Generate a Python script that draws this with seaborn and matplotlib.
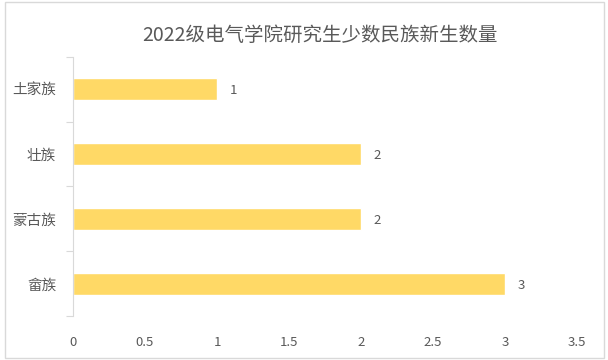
import matplotlib
matplotlib.use("Agg")
import matplotlib.pyplot as plt
import matplotlib.patches as mpatches
import numpy as np
import pandas as pd
import seaborn as sns

# Dados
minorias = ["土家族", "壮族", "蒙古族", "畲族"]
quantidade = [1, 2, 2, 3]
ticks_x = [0, 0.5, 1, 1.5, 2, 2.5, 3, 3.5]
titulo = "2022级电气学院研究生少数民族新生数量"

df = pd.DataFrame({"Etnia": minorias, "Qtd": quantidade})

sns.set_theme(style="white")
plt.rcParams["font.family"] = ["Noto Sans CJK SC", "DejaVu Sans"]

cinza = "#595959"
linha = "#D9D9D9"

fig = plt.figure(figsize=(6.08, 3.6), dpi=100)
ax = fig.add_axes([0.120, 0.121, 0.829, 0.722])

sns.barplot(data=df, x="Qtd", y="Etnia", orient="h", color="#FFD966",
            width=0.34, saturation=1, ax=ax)

ax.set_xlim(0, 3.5)
ax.set_ylim(len(minorias) - 0.5, -0.5)
ax.set_xticks(ticks_x)
ax.set_xticklabels([f"{t:g}" for t in ticks_x], color=cinza, fontsize=9.5)
ax.set_yticklabels(minorias, color=cinza, fontsize=10.5)
ax.set_xlabel("")
ax.set_ylabel("")

# Espinhas: so a esquerda
for lado in ["top", "right", "bottom"]:
    ax.spines[lado].set_visible(False)
ax.spines["left"].set_color(linha)
ax.spines["left"].set_linewidth(0.8)

# Marcas do eixo y entre categorias
ax.set_yticks(np.arange(-0.5, len(minorias), 1.0), minor=True)
ax.tick_params(axis="y", which="major", length=0, pad=12)
ax.tick_params(axis="y", which="minor", length=5, color=linha, width=0.8, left=True)
ax.tick_params(axis="x", length=0, pad=14)

# Rotulos de valor
for i, v in enumerate(quantidade):
    ax.text(v + 0.09, i + 0.03, f"{v}", va="center", ha="left", fontsize=9.5, color=cinza)

fig.suptitle(titulo, x=0.527, y=0.93, fontsize=14, color=cinza)

# Borda da figura
fig.patches.append(mpatches.Rectangle((0.008, 0.005), 0.985, 0.99,
                                      transform=fig.transFigure, fill=False,
                                      edgecolor=linha, linewidth=1))

fig.savefig("out.png", dpi=100)
